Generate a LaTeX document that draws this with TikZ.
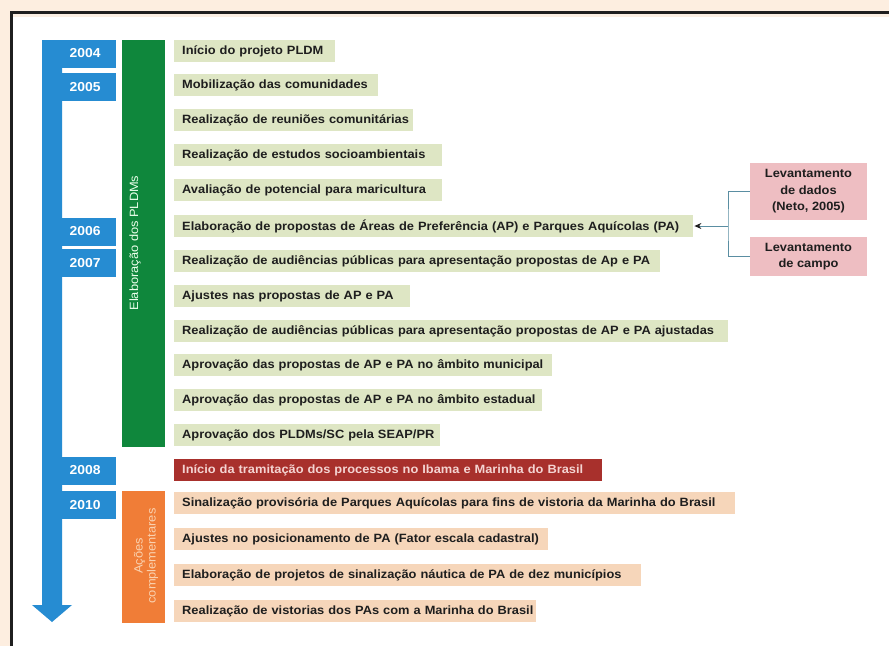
\documentclass[tikz,border=0pt]{standalone}
\usepackage{fontspec}
\setmainfont{Liberation Sans}[FakeStretch=1.07]
\usetikzlibrary{arrows.meta}
\definecolor{cream}{HTML}{FDEEE0}
\definecolor{frame}{HTML}{1F1F1F}
\definecolor{tlblue}{HTML}{268CD2}
\definecolor{pgreen}{HTML}{0F873C}
\definecolor{evgreen}{HTML}{DEE6C4}
\definecolor{evred}{HTML}{A8302C}
\definecolor{redtxt}{HTML}{F4D4D2}
\definecolor{porange}{HTML}{F07D37}
\definecolor{orangetxt}{HTML}{FAD2B0}
\definecolor{evorange}{HTML}{F6D6BA}
\definecolor{evpink}{HTML}{EEBEC2}
\definecolor{txt}{HTML}{1E1E1E}
\definecolor{link}{HTML}{5A8EA2}
\tikzset{
  every node/.style={font=\fontsize{12}{14}\selectfont},
  ev/.style={anchor=west, minimum height=22pt, inner xsep=8pt, inner ysep=0pt,
    align=left, text=txt, font=\fontsize{12}{14}\selectfont\bfseries},
  evg/.style={ev, fill=evgreen},
  evr/.style={ev, fill=evred, text=redtxt},
  evo/.style={ev, fill=evorange},
  yearbox/.style={anchor=west, fill=tlblue, minimum width=74pt, minimum height=28pt,
    inner sep=0pt, text=white, font=\fontsize{13}{15}\selectfont\bfseries},
  pinkbox/.style={fill=evpink, minimum width=117pt, inner sep=0pt, align=center,
    text=txt, font=\fontsize{12}{16.5}\selectfont\bfseries},
  phasebar/.style={minimum width=43pt, inner sep=0pt},
  phasetxt/.style={rotate=90, align=center, font=\fontsize{12}{13}\selectfont}
}
\begin{document}
\begin{tikzpicture}[x=1pt,y=-1pt]
\useasboundingbox (0,0) rectangle (889,646);
% background and frame
\fill[cream] (0,0) rectangle (889,646);
\fill[white] (11,13) rectangle (889,646);
\fill[evorange!40] (12,14) rectangle (889,17);
\draw[frame, line width=3pt] (11,646) -- (11,12) -- (889,12);
% timeline arrow
\fill[tlblue] (42,40) -- (62,40) -- (62,605) -- (72,605) -- (52,622) -- (32,605) -- (42,605) -- cycle;
% years
\node[yearbox] (y2004) at (42,53.5) {\hspace*{12pt}2004};
\node[yearbox] (y2005) at (42,87) {\hspace*{12pt}2005};
\node[yearbox] (y2006) at (42,231.5) {\hspace*{12pt}2006};
\node[yearbox] (y2007) at (42,263) {\hspace*{12pt}2007};
\node[yearbox] (y2008) at (42,470.5) {\hspace*{12pt}2008};
\node[yearbox] (y2010) at (42,505) {\hspace*{12pt}2010};
% phase bars
\node[phasebar, fill=pgreen, minimum height=407pt] (gbar) at (143.5,243.5) {};
\node[phasetxt, text=green!8!white] (gtxt) at (135,243) {Elaboração dos PLDMs};
\node[phasebar, fill=porange, minimum height=132pt] (obar) at (143.5,557) {};
\node[phasetxt, text=orangetxt] (otxt) at (146,556) {Ações\\complementares};
% events
\node[evg, text width=145pt] (e1) at (174,51) {\mbox{Início do projeto PLDM}};
\node[evg, text width=188pt] (e2) at (174,85) {\mbox{Mobilização das comunidades}};
\node[evg, text width=223pt] (e3) at (174,120) {\mbox{Realização de reuniões comunitárias}};
\node[evg, text width=252pt] (e4) at (174,155) {\mbox{Realização de estudos socioambientais}};
\node[evg, text width=252pt] (e5) at (174,190) {\mbox{Avaliação de potencial para maricultura}};
\node[evg, text width=503pt] (e6) at (174,226) {\mbox{Elaboração de propostas de Áreas de Preferência (AP) e Parques Aquícolas (PA)}};
\node[evg, text width=470pt] (e7) at (174,261) {\mbox{Realização de audiências públicas para apresentação propostas de Ap e PA}};
\node[evg, text width=220pt] (e8) at (174,296) {\mbox{Ajustes nas propostas de AP e PA}};
\node[evg, text width=538pt] (e9) at (174,331) {\mbox{Realização de audiências públicas para apresentação propostas de AP e PA ajustadas}};
\node[evg, text width=362pt] (e10) at (174,365) {\mbox{Aprovação das propostas de AP e PA no âmbito municipal}};
\node[evg, text width=352pt] (e11) at (174,400) {\mbox{Aprovação das propostas de AP e PA no âmbito estadual}};
\node[evg, text width=250pt] (e12) at (174,435) {\mbox{Aprovação dos PLDMs/SC pela SEAP/PR}};
\node[evr, text width=412pt] (r1) at (174,470) {\mbox{Início da tramitação dos processos no Ibama e Marinha do Brasil}};
\node[evo, text width=545pt] (o1) at (174,503) {\mbox{Sinalização provisória de Parques Aquícolas para fins de vistoria da Marinha do Brasil}};
\node[evo, text width=358pt] (o2) at (174,539) {\mbox{Ajustes no posicionamento de PA (Fator escala cadastral)}};
\node[evo, text width=451pt] (o3) at (174,575) {\mbox{Elaboração de projetos de sinalização náutica de PA de dez municípios}};
\node[evo, text width=346pt] (o4) at (174,611) {\mbox{Realização de vistorias dos PAs com a Marinha do Brasil}};
% side boxes
\node[pinkbox, minimum height=57pt] (p1) at (808.5,191.5) {Levantamento\\de dados\\(Neto, 2005)};
\node[pinkbox, minimum height=39pt] (p2) at (808.5,256.5) {Levantamento\\de campo};
\coordinate (j) at (728,226);
\draw[link, line width=1pt] (p1.west) -| (j) |- (p2.west);
\draw[link, line width=1pt, -{Stealth[length=7pt,width=6pt,color=frame]}] (j) -- ([xshift=1pt]e6.east);
\end{tikzpicture}
\end{document}
